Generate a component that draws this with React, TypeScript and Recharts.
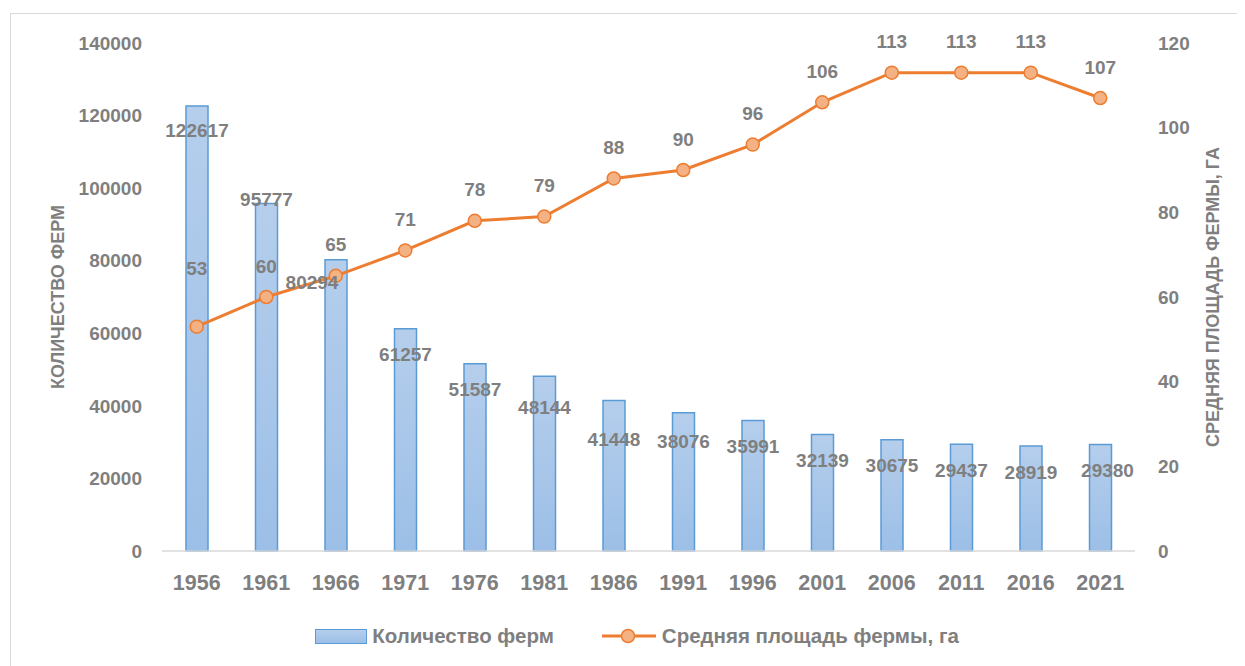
import React from 'react';
import { ComposedChart, Bar, Line, XAxis, YAxis, Legend, LabelList, Label } from 'recharts';

const years = ['1956', '1961', '1966', '1971', '1976', '1981', '1986', '1991', '1996', '2001', '2006', '2011', '2016', '2021'];
const farmCount = [122617, 95777, 80294, 61257, 51587, 48144, 41448, 38076, 35991, 32139, 30675, 29437, 28919, 29380];
const avgArea = [53, 60, 65, 71, 78, 79, 88, 90, 96, 106, 113, 113, 113, 107];
const leftTicks = [0, 20000, 40000, 60000, 80000, 100000, 120000, 140000];
const rightTicks = [0, 20, 40, 60, 80, 100, 120];

const data = years.map((year, i) => ({ year, farms: farmCount[i], area: avgArea[i] }));

const FONT = '"Liberation Sans", Arial, sans-serif';
const GRAY = '#7F7F7F';
const BLUE = '#5B9BD5';
const ORANGE = '#ED7D31';
const ORANGE_LIGHT = '#F4B183';

// manual nudges of some labels, like in the original excel chart
const barLabelShift: Record<number, [number, number]> = {
  0: [0, -2],
  1: [0, -30],
  2: [-24, -3],
  5: [0, 5],
  6: [0, 13],
  7: [0, 3],
  13: [7, 0],
};
const lineLabelShift: Record<number, [number, number]> = {
  0: [0, -27],
};

const tickStyle = { fill: GRAY, fontSize: 19, fontWeight: 700, fontFamily: FONT };

const renderBarLabel = (p: any) => {
  const [dx, dy] = barLabelShift[p.index] ?? [0, 0];
  return (
    <text x={p.x + p.width / 2 + dx} y={p.y + 26 + dy} textAnchor="middle" dominantBaseline="central"
      fill={GRAY} fontSize={19} fontWeight={700} fontFamily={FONT}>
      {p.value}
    </text>
  );
};

const renderLineLabel = (p: any) => {
  const [dx, dy] = lineLabelShift[p.index] ?? [0, 0];
  return (
    <text x={p.x + dx} y={p.y - 31 + dy} textAnchor="middle" dominantBaseline="central"
      fill={GRAY} fontSize={19} fontWeight={700} fontFamily={FONT}>
      {p.value}
    </text>
  );
};

const axisTitle = (text: string, dx: number) => (props: any) => {
  const vb = props.viewBox;
  const x = vb.x + dx;
  const y = vb.y + vb.height / 2;
  return (
    <text x={x} y={y} transform={`rotate(-90, ${x}, ${y})`} textAnchor="middle" dominantBaseline="central"
      fill={GRAY} fontSize={18} fontWeight={700} fontFamily={FONT}>
      {text}
    </text>
  );
};

const renderLegend = () => (
  <div style={{ display: 'flex', justifyContent: 'center', alignItems: 'center', height: 50, paddingLeft: 20, paddingBottom: 6, boxSizing: 'border-box', fontFamily: FONT, fontWeight: 700, fontSize: 20.5, color: GRAY }}>
    <span style={{ display: 'inline-block', width: 50, height: 13, border: `1.5px solid ${BLUE}`, background: 'linear-gradient(#B5CEEC, #9CBFE7)' }} />
    <span style={{ marginLeft: 5 }}>Количество ферм</span>
    <svg width={54} height={16} style={{ marginLeft: 48 }}>
      <line x1={0} y1={8} x2={54} y2={8} stroke={ORANGE} strokeWidth={3} />
      <circle cx={26} cy={8} r={6.5} fill={ORANGE_LIGHT} stroke={ORANGE} strokeWidth={1.5} />
    </svg>
    <span style={{ marginLeft: 6 }}>Средняя площадь фермы, га</span>
  </div>
);

export default function App() {
  return (
    <div style={{ marginLeft: 2, marginTop: 5, width: 1234, height: 652, borderLeft: '1px solid #D9D9D9', borderTop: '1px solid #D9D9D9', background: '#fff' }}>
      <ComposedChart width={1232} height={650} data={data} margin={{ top: 29, right: 0, bottom: 0, left: 0 }}>
        <defs>
          <linearGradient id="barFill" x1="0" y1="0" x2="0" y2="1">
            <stop offset="0%" stopColor="#B5CEEC" />
            <stop offset="100%" stopColor="#9CBFE7" />
          </linearGradient>
        </defs>
        <XAxis dataKey="year" height={63} tickLine={false} axisLine={{ stroke: '#D9D9D9', strokeWidth: 1.5 }}
          tick={{ ...tickStyle, fontSize: 21.5 }} tickMargin={18} />
        <YAxis yAxisId="left" width={151} domain={[0, 140000]} ticks={leftTicks} axisLine={false} tickLine={false}
          tick={tickStyle} tickMargin={14}>
          <Label content={axisTitle('КОЛИЧЕСТВО ФЕРМ', 47)} />
        </YAxis>
        <YAxis yAxisId="right" orientation="right" width={108} domain={[0, 120]} ticks={rightTicks} axisLine={false}
          tickLine={false} tick={{ ...tickStyle, textAnchor: 'start' }} tickMargin={17}>
          <Label content={axisTitle('СРЕДНЯЯ ПЛОЩАДЬ ФЕРМЫ, ГА', 78)} />
        </YAxis>
        <Legend verticalAlign="bottom" height={50} content={renderLegend} />
        <Bar yAxisId="left" dataKey="farms" name="Количество ферм" barSize={22} fill="url(#barFill)" stroke={BLUE}
          strokeWidth={1.5} isAnimationActive={false}>
          <LabelList dataKey="farms" content={renderBarLabel} />
        </Bar>
        <Line yAxisId="right" dataKey="area" name="Средняя площадь фермы, га" stroke={ORANGE} strokeWidth={3}
          dot={{ r: 6.5, fill: ORANGE_LIGHT, stroke: ORANGE, strokeWidth: 1.5 }} activeDot={false} isAnimationActive={false}>
          <LabelList dataKey="area" content={renderLineLabel} />
        </Line>
      </ComposedChart>
    </div>
  );
}
